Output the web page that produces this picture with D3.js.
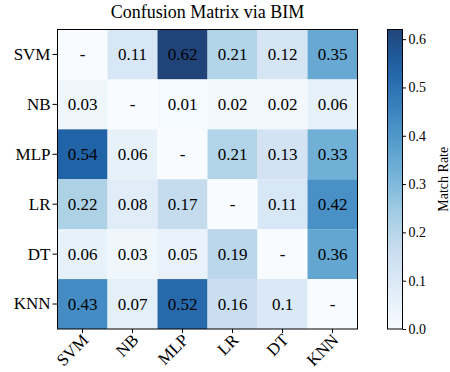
<!DOCTYPE html>
<html><head><meta charset="utf-8">
<script src="https://cdn.jsdelivr.net/npm/d3@7"></script>
<style>body{margin:0;background:#fff}svg{display:block}text{font-family:"Liberation Serif","Times New Roman",serif;fill:#000}</style>
</head><body><svg id="c" width="450" height="372"></svg>
<script>
const rowLabels = ["SVM","NB","MLP","LR","DT","KNN"];
const colLabels = ["SVM","NB","MLP","LR","DT","KNN"];
// null = diagonal ("-")
const values = [
  [null,0.11,0.62,0.21,0.12,0.35],
  [0.03,null,0.01,0.02,0.02,0.06],
  [0.54,0.06,null,0.21,0.13,0.33],
  [0.22,0.08,0.17,null,0.11,0.42],
  [0.06,0.03,0.05,0.19,null,0.36],
  [0.43,0.07,0.52,0.16,0.1,null]
];
const cbarTicks = [0,0.1,0.2,0.3,0.4,0.5,0.6];
const vmin = 0, vmax = 0.62;
const title = "Confusion Matrix via BIM";
const cbarLabel = "Match Rate";

const blues = ["#f7fbff","#deebf7","#c6dbef","#9ecae1","#6baed6","#4292c6","#2171b5","#08519c","#08306b"];
const interp = d3.piecewise(d3.interpolateRgb, blues);
const alpha = 0.9;
const color = v => interp(Math.max(0, Math.min(1, (v - vmin) / (vmax - vmin))));

const svg = d3.select("#c");
const L = 57.5, T = 29.5, W = 300, H = 299.5;
const x = d3.scaleBand().domain(colLabels).range([L, L + W]);
const y = d3.scaleBand().domain(rowLabels).range([T, T + H]);

const cells = [];
values.forEach((row, i) => row.forEach((v, j) => cells.push({r: rowLabels[i], c: colLabels[j], v})));

svg.append("g").selectAll("rect").data(cells).join("rect")
  .attr("x", d => x(d.c)).attr("y", d => y(d.r))
  .attr("width", x.bandwidth()).attr("height", y.bandwidth())
  .attr("fill", d => color(d.v === null ? 0 : d.v)).attr("fill-opacity", alpha);

svg.append("g").selectAll("text").data(cells).join("text")
  .attr("x", d => x(d.c) + x.bandwidth() / 2).attr("y", d => y(d.r) + y.bandwidth() / 2)
  .attr("text-anchor", "middle").attr("dominant-baseline", "central")
  .style("font-size", "17px")
  .text(d => d.v === null ? "-" : String(d.v));

svg.append("rect").attr("x", L).attr("y", T).attr("width", W).attr("height", H)
  .attr("fill", "none").attr("stroke", "#000").attr("stroke-width", 1);

const xAxis = svg.append("g").attr("transform", `translate(0,${T + H})`)
  .call(d3.axisBottom(x).tickSize(4).tickPadding(3));
xAxis.select(".domain").remove();
xAxis.selectAll("text").style("font-size", "17px").attr("text-anchor", "end")
  .attr("dy", null).attr("y", 0).attr("x", 0)
  .attr("transform", "translate(7,12) rotate(-45)");

const yAxis = svg.append("g").attr("transform", `translate(${L},0)`)
  .call(d3.axisLeft(y).tickSize(5).tickPadding(2));
yAxis.select(".domain").remove();
yAxis.selectAll("text").style("font-size", "17px");

svg.append("text").attr("x", L + W / 2).attr("y", 18).attr("text-anchor", "middle")
  .style("font-size", "18px").text(title);

// colorbar
const CX = 387.5, CW = 15;
const cy = d3.scaleLinear().domain([vmin, vmax]).range([T + H, T]);
const defs = svg.append("defs");
const grad = defs.append("linearGradient").attr("id", "g").attr("x1", 0).attr("y1", 1).attr("x2", 0).attr("y2", 0);
d3.range(0, 1.0001, 0.05).forEach(t => grad.append("stop").attr("offset", t).attr("stop-color", interp(t)).attr("stop-opacity", alpha));
svg.append("rect").attr("x", CX).attr("y", T).attr("width", CW).attr("height", H)
  .attr("fill", "url(#g)").attr("stroke", "#000").attr("stroke-width", 1);
const cAxis = svg.append("g").attr("transform", `translate(${CX + CW},0)`)
  .call(d3.axisRight(cy).tickValues(cbarTicks).tickFormat(d3.format(".1f")).tickSize(3.5).tickPadding(2.5));
cAxis.select(".domain").remove();
cAxis.selectAll("text").style("font-size", "14px");
svg.append("text").attr("transform", `translate(448,${T + H / 2}) rotate(-90)`)
  .attr("text-anchor", "middle").style("font-size", "14px").text(cbarLabel);
</script></body></html>
